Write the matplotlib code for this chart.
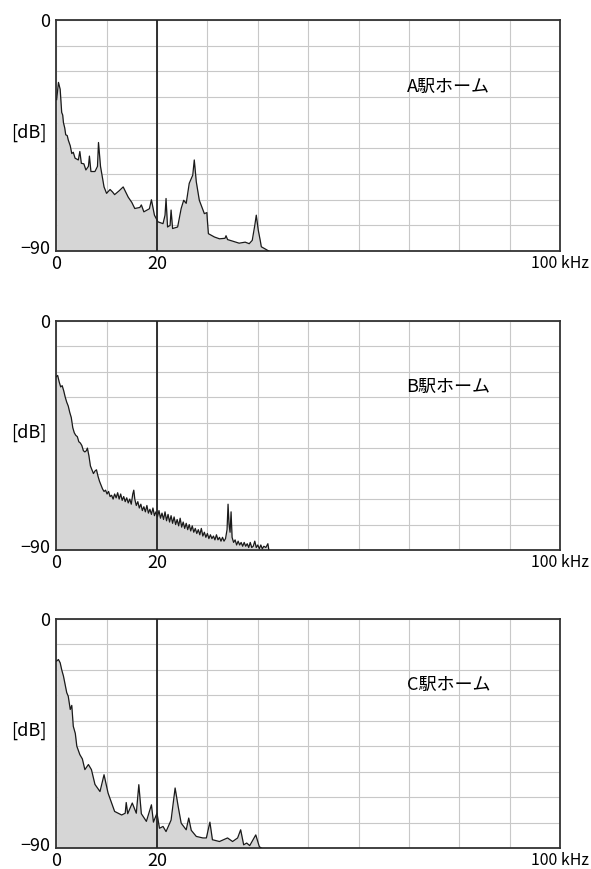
import numpy as np
import matplotlib
matplotlib.use("Agg")
import matplotlib.pyplot as plt
import matplotlib.transforms as mtransforms

plt.rcParams['font.family'] = ['Noto Sans CJK JP', 'DejaVu Sans']

# --- spectrum data (kHz, dB) ---
freq_a = [0.1, 0.46, 0.8, 1.1, 1.3, 1.45, 1.7, 1.9, 2.2, 2.4, 2.8, 3.1, 3.4, 3.75, 4.4, 4.7, 5.0, 5.5, 5.9, 6.4, 6.6, 6.9,
          7.7, 8.2, 8.4, 8.8, 9.5, 10.0, 10.7, 11.2, 11.6, 12.5, 13.3, 14.3, 15.0, 15.6, 16.6, 16.9, 17.4,
          18.5, 18.9, 19.5, 20.2, 21.2, 21.6, 21.8, 22.1, 22.6, 22.8, 23.1, 24.1, 24.8, 25.3,
          25.8, 26.4, 27.1, 27.4, 27.8, 28.4, 29.4, 29.9, 30.0, 30.2, 31.4, 32.4, 33.5, 33.7,
          34.0, 35.0, 36.3, 37.5, 38.3, 38.9, 39.4, 39.7, 40.1, 40.5, 40.7, 41.6, 42.2]
level_a = [-31, -24.3, -27, -36, -37, -40, -42, -44.7, -45, -46.7, -49, -52, -51.5, -53.8, -54.5, -51.2, -55.8, -56, -58.4, -57, -53, -59,
           -59, -57, -47.7, -57, -65, -67.5, -66, -67, -68, -66.5, -65, -69, -71, -73.4, -73, -72, -74.7,
           -73.5, -70, -76, -78.6, -79.3, -76, -69.5, -80.6, -80, -74, -81.2, -80.6, -73.4, -70.2,
           -71.4, -63.6, -60.4, -54.5, -63, -70.2, -75.4, -75, -78, -83.2, -84.5, -85.2, -85, -84,
           -85.5, -86.1, -86.9, -86.5, -87.1, -85.8, -80, -76, -81.9, -86, -88.3, -89.3, -90]

freq_b = [0.0, 0.3, 0.6, 0.9, 1.2, 1.5, 1.8, 2.1, 2.4, 2.7, 3.0, 3.3, 3.6, 3.9, 4.2, 4.5, 4.8,
          5.1, 5.4, 5.7, 6.0, 6.2, 6.5, 6.8, 7.1, 7.4, 7.7, 8.0, 8.3, 8.6, 8.9, 9.2, 9.5, 9.8,
          10.1, 10.4, 10.7, 11.0, 11.3, 11.6, 11.9, 12.2, 12.5, 12.8, 13.1, 13.4, 13.7, 14.0,
          14.3, 14.6, 14.9, 15.2, 15.4, 15.6, 15.9, 16.2, 16.5, 16.8, 17.1, 17.4, 17.7, 18.0,
          18.3, 18.6, 18.9, 19.2, 19.5, 19.8, 20.1, 20.4, 20.7, 21.0, 21.3, 21.6, 21.9, 22.2,
          22.5, 22.8, 23.1, 23.4, 23.7, 24.0, 24.3, 24.6, 24.9, 25.2, 25.5, 25.8, 26.1, 26.4,
          26.7, 27.0, 27.3, 27.6, 27.9, 28.2, 28.5, 28.8, 29.1, 29.4, 29.7, 30.0, 30.3, 30.6,
          30.9, 31.2, 31.5, 31.8, 32.1, 32.4, 32.7, 33.0, 33.3, 33.6, 33.9, 34.1, 34.3, 34.5,
          34.7, 34.9, 35.2, 35.5, 35.8, 36.1, 36.4, 36.7, 37.0, 37.3, 37.6, 37.9, 38.2, 38.5,
          38.8, 39.1, 39.4, 39.7, 40.0, 40.3, 40.6, 40.9, 41.2, 41.6, 42.0, 42.2]
level_b = [-22, -21.5, -24, -26, -25.5, -27.5, -30, -32, -33.5, -36, -38, -42, -44, -45, -45.5, -47.5, -48,
           -49, -51, -51.5, -51, -50, -53, -57, -58.5, -60, -59, -58.5, -61, -63, -64.5, -66, -67, -66.5,
           -68, -67, -69, -68.5, -70, -68, -69.5, -67.5, -70, -68, -70.5, -69, -71, -69.5,
           -71.5, -70, -72, -68, -66.5, -70, -72.5, -71, -73.5, -72, -74.5, -73, -75, -72.5,
           -75.5, -74, -76, -73.5, -76.5, -75, -77, -74.5, -77.5, -75.5, -78, -75, -78.5, -76,
           -79, -76.5, -79.5, -77, -80, -78, -80.5, -77.5, -81, -79, -81.5, -79.5, -82, -80,
           -82.5, -80.5, -83, -81.5, -83.5, -82, -84, -81.5, -84.5, -83, -85, -83.5, -85.5, -84,
           -85.5, -84.5, -86, -84, -86, -85, -86.5, -85, -86.5, -85.5, -82, -72, -80, -83,
           -75, -85, -87, -86, -88, -86.5, -88, -87, -88.5, -87, -88.5, -87.5, -89, -87,
           -89, -88.5, -86.5, -89, -88, -89.5, -88, -89.5, -88.5, -89, -87.5, -90]

freq_c = [0.1, 0.45, 0.8, 1.1, 1.45, 1.8, 2.1, 2.4, 2.8, 3.1, 3.4, 3.8, 4.1, 4.7, 5.2, 5.7, 6.4, 7.0, 7.7, 8.7, 9.5,
          10.3, 11.6, 13.0, 13.7, 13.9, 14.2, 15.1, 15.9, 16.4, 16.9, 17.9, 18.9, 19.3, 20.0,
          20.5, 21.2, 21.8, 22.8, 23.6, 24.2, 24.8, 25.8, 26.3, 26.8, 27.8, 29.1, 29.8, 30.5,
          31.0, 32.4, 34.0, 35.0, 36.0, 36.6, 37.2, 37.8, 38.4, 39.6, 40.3, 40.7]
level_c = [-16.6, -16, -17.3, -20, -22.5, -26, -29, -30.4, -35.6, -34, -42.2, -45, -50, -53.3, -55, -59.2, -57.2, -59.2, -65, -67.8, -61.2,
           -68.4, -75.6, -77, -76.3, -72.1, -76.5, -72.3, -76.3, -65.1, -76.5, -79.5, -73, -79.8, -76.3,
           -82.2, -81.5, -83.5, -79, -66.4, -73.6, -80.2, -82.8, -78.2, -83, -85.4, -86, -86, -79.8,
           -86.7, -87.4, -86, -87.4, -86, -82.8, -88.7, -88, -89, -84.8, -89.4, -90]

panels = [(freq_a, level_a, 'A駅ホーム'),
          (freq_b, level_b, 'B駅ホーム'),
          (freq_c, level_c, 'C駅ホーム')]

# axes rectangles in figure fraction
rects = [[0.095, 0.711, 0.853, 0.266],
         [0.095, 0.367, 0.853, 0.264],
         [0.095, 0.024, 0.853, 0.264]]

fig = plt.figure(figsize=(5.91, 8.69), dpi=100)

for (f, lv, name), r in zip(panels, rects):
    ax = fig.add_axes(r)
    ax.fill_between(f, lv, -90, color='#d6d6d6', lw=0, zorder=2)
    ax.plot(f, lv, color='#1a1a1a', lw=0.9, zorder=3)
    ax.axvline(20, color='#222222', lw=1.3, zorder=4)

    ax.set_xlim(0, 100)
    ax.set_ylim(-90, 0)
    ax.set_xticks(np.arange(0, 101, 10))
    ax.set_xticklabels(['0', '', '20', '', '', '', '', '', '', '', '100 kHz'])
    ax.set_yticks(np.arange(-90, 1, 10))
    ax.set_yticklabels(['−90'] + [''] * 8 + ['0'])
    ax.tick_params(axis='x', length=0, labelsize=13, pad=3)
    ax.tick_params(axis='y', length=0, labelsize=13, pad=4)
    ax.get_xticklabels()[-1].set_fontsize(11.5)
    # lift the -90 label a little, as in the original
    lab = ax.get_yticklabels()[0]
    lab.set_transform(lab.get_transform() + mtransforms.ScaledTranslation(0, 3 / 72, fig.dpi_scale_trans))
    ax.grid(True, color='#c8c8c8', lw=0.8, zorder=1)
    ax.set_axisbelow(True)
    for s in ax.spines.values():
        s.set_color('#333333')
        s.set_linewidth(1.3)

    ax.text(-0.054, 0.51, '[dB]', transform=ax.transAxes, ha='center', va='center', fontsize=13)
    ax.text(0.695, 0.71, name, transform=ax.transAxes, ha='left', va='center', fontsize=13)

fig.savefig('out.png', dpi=100)
